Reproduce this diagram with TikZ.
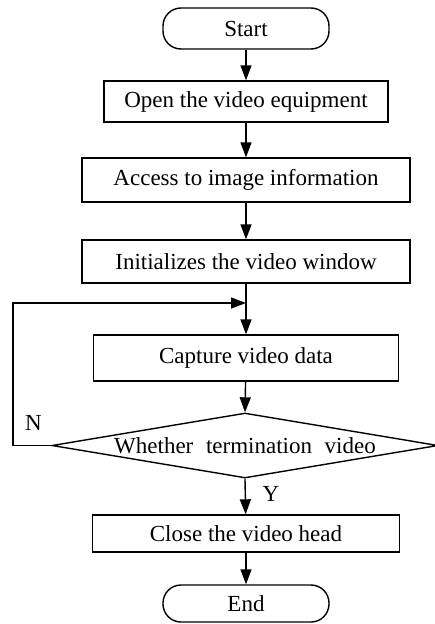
\documentclass[tikz,border=0pt]{standalone}
\usepackage{fontspec}
\setmainfont{Liberation Serif}
\usetikzlibrary{shapes.geometric,arrows.meta}
\begin{document}
\begin{tikzpicture}[x=1pt,y=-1pt,
  line width=1.4pt,
  font=\fontsize{23}{26}\selectfont,
  proc/.style={draw,rectangle,inner sep=0pt,minimum height=#1},
  term/.style={draw,rectangle,rounded corners=18pt,inner sep=0pt,minimum width=166pt,minimum height=#1},
  decision/.style={draw,diamond,inner sep=0pt,minimum width=386pt,minimum height=65pt},
  flow/.style={-{Triangle[length=15pt,width=11pt]}},
  tag/.style={inner sep=0pt}]
\useasboundingbox (0,0) rectangle (435,624);

\node[term=41pt] (start) at (246,28.5) {Start};
\node[proc=41pt,minimum width=284pt] (open) at (246,101.5) {Open the video equipment};
\node[proc=44pt,minimum width=328pt] (access) at (246,180) {Access to image information};
\node[proc=43pt,minimum width=328pt] (init) at (246,261.5) {Initializes the video window};
\node[proc=46pt,minimum width=305pt] (capture) at (246,358) {Capture video data};
\node[decision,label={center:Whether\hspace{0.55em}termination\hspace{0.55em}video}] (dec) at (245,445.5) {};
\node[proc=37pt,minimum width=307pt] (close) at (246,533.5) {Close the video head};
\node[term=37pt] (end) at (246,603.5) {End};

\coordinate (loopL) at (13,303);
\coordinate (join) at (init.south |- loopL);

\draw[flow] (start) -- (open);
\draw[flow] (open) -- (access);
\draw[flow] (access) -- (init);
\draw[flow] (init) -- (capture);
\draw[flow] (capture) -- (dec.north);
\draw[flow] (dec.west) -| (loopL) -- (join);
\draw[flow] (dec.south) -- (close);
\draw[flow] (close) -- (end);

\node[tag] (nlab) at (33.5,423) {N};
\node[tag] (ylab) at (271,494) {Y};
\end{tikzpicture}
\end{document}
